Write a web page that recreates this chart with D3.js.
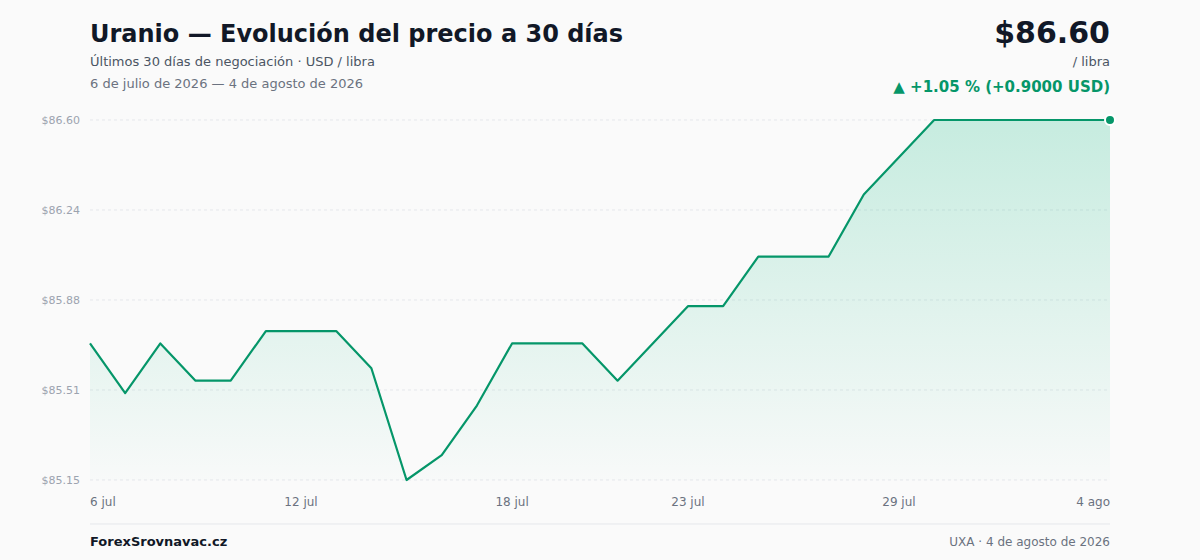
<!DOCTYPE html>
<html>
<head>
<meta charset="utf-8">
<script src="https://cdn.jsdelivr.net/npm/d3@7"></script>
<style>
  html, body { margin: 0; padding: 0; background: #fafafa; }
  body { width: 1200px; height: 560px; overflow: hidden; font-family: "DejaVu Sans", sans-serif; }
</style>
</head>
<body>
<div id="chart"></div>
<script>
// Daily closes, 6 jul 2026 - 4 ago 2026 (USD / libra)
const dates = [
  '2026-07-06', '2026-07-07', '2026-07-08', '2026-07-09', '2026-07-10',
  '2026-07-11', '2026-07-12', '2026-07-13', '2026-07-14', '2026-07-15',
  '2026-07-16', '2026-07-17', '2026-07-18', '2026-07-19', '2026-07-20',
  '2026-07-21', '2026-07-22', '2026-07-23', '2026-07-24', '2026-07-25',
  '2026-07-26', '2026-07-27', '2026-07-28', '2026-07-29', '2026-07-30',
  '2026-07-31', '2026-08-01', '2026-08-02', '2026-08-03', '2026-08-04'
];
const prices = [
  85.70, 85.50, 85.70, 85.55, 85.55,
  85.75, 85.75, 85.75, 85.60, 85.15,
  85.25, 85.45, 85.70, 85.70, 85.70,
  85.55, 85.70, 85.85, 85.85, 86.05,
  86.05, 86.05, 86.30, 86.45, 86.60,
  86.60, 86.60, 86.60, 86.60, 86.60
];
const tickIndex = [0, 6, 12, 17, 23, 29];
const tickLabels = ['6 jul', '12 jul', '18 jul', '23 jul', '29 jul', '4 ago'];

const width = 1200, height = 560;
const margin = { top: 120, right: 90, bottom: 80, left: 90 };
const green = '#059669';

const svg = d3.select('#chart').append('svg')
  .attr('width', width)
  .attr('height', height);

svg.append('rect').attr('width', width).attr('height', height).attr('fill', '#fafafa');

const x = d3.scaleLinear()
  .domain([0, prices.length - 1])
  .range([margin.left, width - margin.right]);

const y = d3.scaleLinear()
  .domain([d3.min(prices), d3.max(prices)])
  .range([height - margin.bottom, margin.top]);

// gradient for the area
const defs = svg.append('defs');
const grad = defs.append('linearGradient')
  .attr('id', 'areaFill')
  .attr('gradientUnits', 'userSpaceOnUse')
  .attr('x1', 0).attr('x2', 0)
  .attr('y1', margin.top).attr('y2', height - margin.bottom);
grad.append('stop').attr('offset', '0%').attr('stop-color', '#10b981').attr('stop-opacity', 0.22);
grad.append('stop').attr('offset', '100%').attr('stop-color', '#10b981').attr('stop-opacity', 0.01);

// grid + y labels
const [y0, y1] = y.domain();
const yTicks = d3.range(5).map(i => y0 + (y1 - y0) * i / 4);

svg.append('g')
  .selectAll('line')
  .data(yTicks)
  .enter()
  .append('line')
  .attr('x1', margin.left)
  .attr('x2', width - margin.right)
  .attr('y1', d => y(d))
  .attr('y2', d => y(d))
  .attr('stroke', '#e5e7eb')
  .attr('stroke-width', 1)
  .attr('stroke-dasharray', '3,3');

svg.append('g')
  .selectAll('text')
  .data(yTicks)
  .enter()
  .append('text')
  .attr('x', margin.left - 10)
  .attr('y', d => y(d))
  .attr('dy', '0.35em')
  .attr('text-anchor', 'end')
  .attr('font-size', '11px')
  .attr('fill', '#9ca3af')
  .text(d => '$' + d.toFixed(2));

// area + line
const area = d3.area()
  .x((d, i) => x(i))
  .y0(height - margin.bottom)
  .y1(d => y(d));

const line = d3.line()
  .x((d, i) => x(i))
  .y(d => y(d));

svg.append('path')
  .datum(prices)
  .attr('d', area)
  .attr('fill', 'url(#areaFill)');

svg.append('path')
  .datum(prices)
  .attr('d', line)
  .attr('fill', 'none')
  .attr('stroke', green)
  .attr('stroke-width', 2.2)
  .attr('stroke-linejoin', 'round');

const last = prices.length - 1;
svg.append('circle')
  .attr('cx', x(last))
  .attr('cy', y(prices[last]))
  .attr('r', 5)
  .attr('fill', green)
  .attr('stroke', '#ffffff')
  .attr('stroke-width', 2);

// x labels
svg.append('g')
  .selectAll('text')
  .data(tickIndex)
  .enter()
  .append('text')
  .attr('x', d => x(d))
  .attr('y', height - margin.bottom + 26)
  .attr('text-anchor', (d, i) => i === 0 ? 'start' : (i === tickIndex.length - 1 ? 'end' : 'middle'))
  .attr('font-size', '12px')
  .attr('fill', '#6b7280')
  .text((d, i) => tickLabels[i]);

// header
svg.append('text')
  .attr('x', margin.left)
  .attr('y', 42)
  .attr('font-size', '24px')
  .attr('font-weight', 'bold')
  .attr('fill', '#111827')
  .text('Uranio — Evolución del precio a 30 días');

svg.append('text')
  .attr('x', margin.left)
  .attr('y', 66)
  .attr('font-size', '13px')
  .attr('fill', '#4b5563')
  .text('Últimos 30 días de negociación · USD / libra');

svg.append('text')
  .attr('x', margin.left)
  .attr('y', 88)
  .attr('font-size', '13px')
  .attr('fill', '#6b7280')
  .text('6 de julio de 2026 — 4 de agosto de 2026');

const first = prices[0];
const change = prices[last] - first;
const pct = change / first * 100;

svg.append('text')
  .attr('x', width - margin.right)
  .attr('y', 43)
  .attr('text-anchor', 'end')
  .attr('font-size', '30px')
  .attr('font-weight', 'bold')
  .attr('fill', '#111827')
  .text('$' + prices[last].toFixed(2));

svg.append('text')
  .attr('x', width - margin.right)
  .attr('y', 66)
  .attr('text-anchor', 'end')
  .attr('font-size', '13px')
  .attr('fill', '#4b5563')
  .text('/ libra');

svg.append('text')
  .attr('x', width - margin.right)
  .attr('y', 92)
  .attr('text-anchor', 'end')
  .attr('font-size', '15px')
  .attr('font-weight', 'bold')
  .attr('fill', green)
  .text(`▲ +${pct.toFixed(2)} % (+${change.toFixed(4)} USD)`);

// footer
svg.append('line')
  .attr('x1', margin.left)
  .attr('x2', width - margin.right)
  .attr('y1', 524)
  .attr('y2', 524)
  .attr('stroke', '#e5e7eb')
  .attr('stroke-width', 1);

svg.append('text')
  .attr('x', margin.left)
  .attr('y', 546)
  .attr('font-size', '13px')
  .attr('font-weight', 'bold')
  .attr('fill', '#111827')
  .text('ForexSrovnavac.cz');

svg.append('text')
  .attr('x', width - margin.right)
  .attr('y', 546)
  .attr('text-anchor', 'end')
  .attr('font-size', '12px')
  .attr('fill', '#6b7280')
  .text('UXA · 4 de agosto de 2026');
</script>
</body>
</html>
